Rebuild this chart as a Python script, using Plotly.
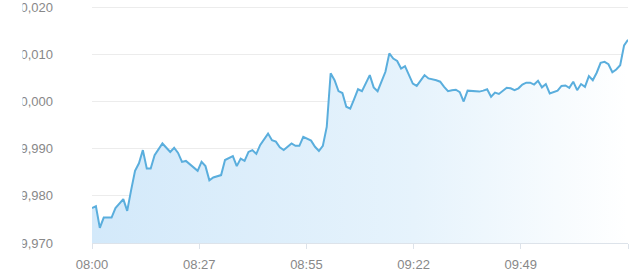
import plotly.graph_objects as go
from datetime import datetime, timedelta

# minutes after 08:00 and observed values
minutes = [0, 1, 2, 3, 5, 6, 8, 9, 10, 11, 12, 13, 14, 15, 16, 18, 20, 21, 22, 23,
           24, 25, 27, 28, 29, 30, 31, 33, 34, 36, 37, 38, 39, 40, 41, 42, 43, 45, 46, 47,
           48, 49, 51, 52, 53, 54, 56, 57, 58, 59, 60, 61, 62, 63, 64, 65, 66, 67, 68, 69,
           71, 72, 73, 75, 76, 77, 78, 79, 80, 82, 83, 85, 86, 88, 89, 90, 91, 92, 93, 94,
           95, 96, 98, 99, 100, 101, 102, 103, 104, 105, 106, 107, 108, 109, 110, 111, 112, 113, 114, 115,
           116, 117, 118, 119, 120, 121, 122, 123, 124, 125, 126, 127, 128, 129, 130, 131, 132, 133, 134, 135,
           136, 137]
values = [9.9774, 9.9778, 9.9732, 9.9754, 9.9754, 9.9774, 9.9793, 9.9768, 9.9812, 9.9853,
          9.9869, 9.9897, 9.9858, 9.9858, 9.9886, 9.9911, 9.9893, 9.9902, 9.9891, 9.9872,
          9.9874, 9.9867, 9.9853, 9.9872, 9.9863, 9.9833, 9.9839, 9.9844, 9.9876, 9.9884,
          9.9863, 9.9879, 9.9874, 9.9893, 9.9897, 9.9889, 9.9908, 9.9932, 9.9918, 9.9915,
          9.9903, 9.9897, 9.9911, 9.9906, 9.9906, 9.9925, 9.9917, 9.9904, 9.9895, 9.9906,
          9.9946, 10.0060, 10.0045, 10.0022, 10.0018, 9.9989, 9.9985, 10.0005, 10.0026, 10.0022,
          10.0056, 10.0030, 10.0022, 10.0063, 10.0102, 10.0091, 10.0086, 10.0070, 10.0075, 10.0038,
          10.0033, 10.0056, 10.0049, 10.0045, 10.0042, 10.0031, 10.0022, 10.0024, 10.0025, 10.0020,
          10.0000, 10.0023, 10.0022, 10.0021, 10.0023, 10.0026, 10.0010, 10.0019, 10.0016, 10.0023,
          10.0029, 10.0028, 10.0024, 10.0028, 10.0036, 10.0040, 10.0040, 10.0036, 10.0044, 10.0030,
          10.0037, 10.0017, 10.0020, 10.0023, 10.0033, 10.0034, 10.0029, 10.0042, 10.0024, 10.0037,
          10.0031, 10.0054, 10.0045, 10.0061, 10.0082, 10.0084, 10.0079, 10.0062, 10.0068, 10.0077,
          10.0119, 10.0131]

y_ticks = [9.970, 9.980, 9.990, 10.000, 10.010, 10.020]
x_tick_minutes = [0, 27.4, 54.8, 82.2, 109.6, 137]
x_tick_labels = ["08:00", "08:27", "08:55", "09:22", "09:49", ""]

start = datetime(2024, 1, 1, 8, 0)
times = [start + timedelta(minutes=m) for m in minutes]
tick_times = [start + timedelta(minutes=m) for m in x_tick_minutes]
y_min, y_max = y_ticks[0], y_ticks[-1]

fig = go.Figure()
fig.add_trace(go.Scatter(x=[times[0], times[-1]], y=[y_min, y_min], mode="lines",
                         line=dict(width=0), hoverinfo="skip", showlegend=False))
fig.add_trace(go.Scatter(
    x=times, y=values, mode="lines",
    line=dict(color="#5AAEDD", width=2),
    fill="tonexty",
    fillgradient=dict(type="horizontal",
                      colorscale=[[0, "#d3e9fa"], [0.6, "#e6f3fc"], [1, "#ffffff"]]),
    showlegend=False,
))

fig.update_layout(
    width=640, height=274,
    margin=dict(l=92, r=12, t=6, b=31, autoexpand=False),
    paper_bgcolor="white", plot_bgcolor="white",
    separators=",.",
    font=dict(family="Liberation Sans, Arial, sans-serif", size=13, color="#888888"),
    xaxis=dict(
        range=[tick_times[0], tick_times[-1]],
        tickvals=tick_times, ticktext=x_tick_labels,
        showgrid=False, showline=True, linecolor="#dde3ea", linewidth=1,
        ticks="outside", ticklen=5, tickcolor="#dde3ea",
        zeroline=False, ticklabelstandoff=4, automargin=False,
    ),
    yaxis=dict(
        range=[y_min, y_max + 0.00025],
        tickvals=y_ticks, tickformat=".3f",
        showgrid=True, gridcolor="#ececec", gridwidth=1,
        zeroline=False, showline=False,
        ticklabelstandoff=38, automargin=False, ticklabeloverflow="allow",
    ),
    shapes=[dict(type="rect", xref="paper", yref="paper",
                 x0=-0.3, x1=-0.1297, y0=-0.06, y1=1.04,
                 fillcolor="white", line=dict(width=0), layer="above")],
)

fig.write_html("out.html")
